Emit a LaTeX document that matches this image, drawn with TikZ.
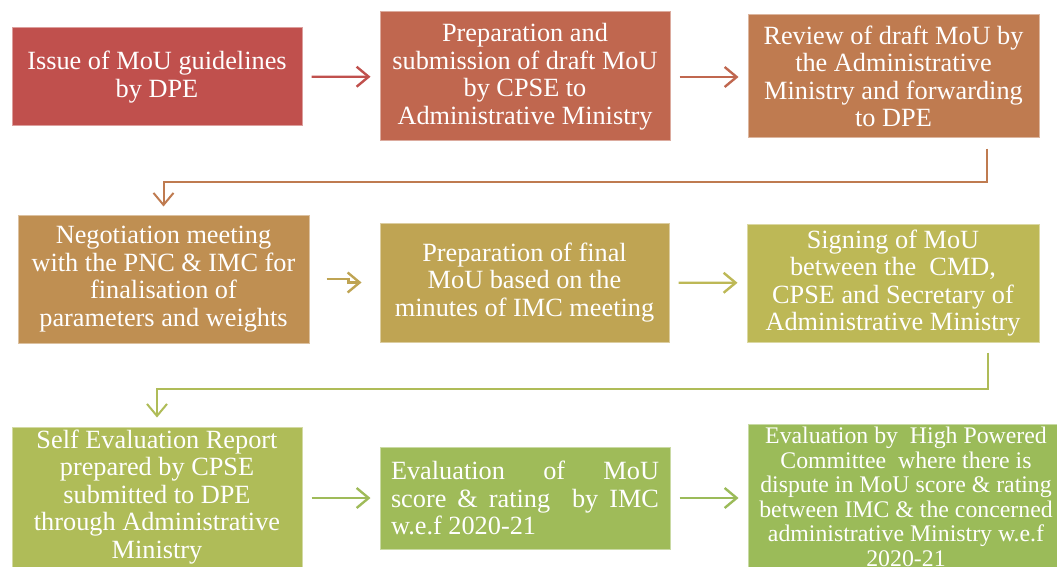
\documentclass[tikz,border=0pt]{standalone}
\usepackage{fontspec}
\setmainfont{Liberation Serif}
\usetikzlibrary{arrows.meta}

\definecolor{c1}{HTML}{C0504D}
\definecolor{c2}{HTML}{C0674F}
\definecolor{c3}{HTML}{BF7B50}
\definecolor{c4}{HTML}{BF8F52}
\definecolor{c5}{HTML}{BFA453}
\definecolor{c6}{HTML}{BDB856}
\definecolor{c7}{HTML}{AFBC58}
\definecolor{c8}{HTML}{9FBB59}
\definecolor{c9}{HTML}{9BBB59}

\tikzset{
  stepbox/.style={rectangle, inner sep=0pt, text=white, align=center,
    font=\fontsize{26.3}{27.5}\selectfont, line width=1pt},
  colbox/.style={stepbox, fill=#1, draw=#1!55!white},
  arr/.style={draw=#1, line width=2.4pt, shorten <=9pt, shorten >=9pt,
    -{Straight Barb[length=12pt,width=20pt,line width=2.4pt]}},
  elbow/.style={draw=#1, line width=2pt,
    -{Straight Barb[length=12pt,width=20pt,line width=2pt]}}
}

\begin{document}
\begin{tikzpicture}[x=1pt,y=-1pt]
\useasboundingbox (0,0) rectangle (1057,567);
\clip (0,0) rectangle (1057,567);

% first row
\node[colbox=c1, minimum width=290, minimum height=98] (b1) at (157,77)
  {Issue of MoU guidelines\\by DPE};
\node[colbox=c2, minimum width=290, minimum height=129] (b2) at (525,76.5)
  {Preparation and\\submission of draft MoU\\by CPSE to\\Administrative Ministry};
\node[colbox=c3, minimum width=291, minimum height=123] (b3) at (893.5,76.5)
  {Review of draft MoU by\\the Administrative\\Ministry and forwarding\\to DPE};

% second row
\node[colbox=c4, minimum width=291, minimum height=128] (b4) at (163.5,279)
  {Negotiation meeting\\with the PNC \& IMC for\\finalisation of\\parameters and weights};
\node[colbox=c5, minimum width=289, minimum height=119] (b5) at (524.5,282.5)
  {Preparation of final\\MoU based on the\\minutes of IMC meeting};
\node[colbox=c6, minimum width=292, minimum height=118] (b6) at (893,283)
  {Signing of MoU\\between the \ CMD,\\CPSE and Secretary of\\Administrative Ministry};

% third row
\node[colbox=c7, minimum width=290, minimum height=140] (b7) at (157,497)
  {Self Evaluation Report\\prepared by CPSE\\submitted to DPE\\through Administrative\\Ministry};
\node[colbox=c8, minimum width=290, minimum height=102, align=left] (b8) at (525,498)
  {\makebox[268pt][s]{Evaluation of MoU}\\
   \makebox[268pt][s]{score \& rating \ by IMC}\\
   w.e.f 2020-21};
\node[colbox=c9, minimum width=316, minimum height=146,
      font=\fontsize{23.8}{24.5}\selectfont] (b9) at (906,497)
  {Evaluation by \ High Powered\\Committee \ where there is\\dispute in MoU score \& rating\\between IMC \& the concerned\\administrative Ministry w.e.f\\2020-21};

% connectors within rows
\draw[arr=c1] (b1) -- (b2);
\draw[arr=c2] (b2.east |- b1) -- (b3.west |- b1);
\draw[arr=c5] ([shift={(8,0)}]b4.east) -- ++(31,0) |- ([shift={(-9,0)}]b5.west);
\draw[arr=c6] (b5) -- (b6);
\draw[arr=c8] (b7.east |- b8) -- (b8);
\draw[arr=c9] (b8) -- (b9.west |- b8);

% connectors between rows
\draw[elbow=c3] ([shift={(93.5,10)}]b3.south) -- ++(0,33) -| ([shift={(0,-8)}]b4.north);
\draw[elbow=c7] ([shift={(95,10)}]b6.south) -- ++(0,36) -| ([shift={(0,-9)}]b7.north);
\end{tikzpicture}
\end{document}
